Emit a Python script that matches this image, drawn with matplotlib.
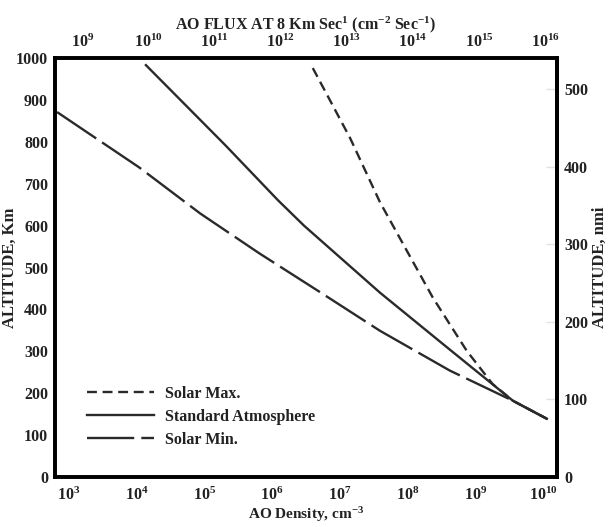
import matplotlib
matplotlib.use("Agg")
import matplotlib.pyplot as plt
import numpy as np

# Data (log10 of AO density, altitude km)
solar_max_logn = [6.60, 7.15, 7.59, 8.00, 8.37, 8.87, 9.25, 9.55, 10.05]
solar_max_alt = [976, 809, 656, 536, 428, 301, 222, 182, 139]
std_logn = [4.14, 5.31, 6.09, 6.47, 7.59, 8.62, 9.55, 10.05]
std_alt = [983, 792, 660, 600, 440, 304, 182, 139]
solar_min_logn = [2.83, 4.04, 4.94, 5.81, 6.68, 7.59, 8.62, 9.55, 10.05]
solar_min_alt = [871, 739, 629, 534, 444, 349, 254, 182, 139]

bottom_exps = [3, 4, 5, 6, 7, 8, 9, 10]
top_exps = [9, 10, 11, 12, 13, 14, 15, 16]
km_ticks = [0, 100, 200, 300, 400, 500, 600, 700, 800, 900, 1000]
nmi_ticks = [0, 100, 200, 300, 400, 500]
labels = ["Solar Max.", "Standard Atmosphere", "Solar Min."]

plt.rcParams['font.family'] = ['Liberation Serif', 'DejaVu Serif']
plt.rcParams['font.weight'] = 'bold'
plt.rcParams['axes.labelweight'] = 'bold'
plt.rcParams['mathtext.fontset'] = 'custom'
plt.rcParams['mathtext.rm'] = 'Liberation Serif:bold'
plt.rcParams['mathtext.it'] = 'Liberation Serif:bold'
plt.rcParams['mathtext.bf'] = 'Liberation Serif:bold'

tc = '#222222'
fig = plt.figure(figsize=(6.10, 5.27), dpi=100)
ax = fig.add_axes([55/610, 50/527, (557-55)/610, (477-58)/527])

lw = 1.7
lc = '#2a2a2a'
ax.plot(10**np.array(solar_max_logn), solar_max_alt, color=lc, lw=lw,
        dashes=(4.2, 2.4), label=labels[0])
ax.plot(10**np.array(std_logn), std_alt, color=lc, lw=lw, label=labels[1])
ax.plot(10**np.array(solar_min_logn), solar_min_alt, color=lc, lw=lw,
        dashes=(20, 3.0), label=labels[2])

ax.set_xscale('log')
ax.set_xlim(10**2.80, 10**10.20)
ax.set_ylim(0, 1000)
ax.set_xticks([10.0**e for e in bottom_exps])
ax.set_xticklabels([r'$\mathregular{10^{%d}}$' % e for e in bottom_exps])
ax.xaxis.set_minor_locator(matplotlib.ticker.NullLocator())
ax.set_yticks(km_ticks)
ax.set_yticklabels([str(v) for v in km_ticks])
ax.tick_params(axis='both', length=0, labelsize=11.5, colors=tc)
ax.tick_params(axis='y', pad=5)
ax.tick_params(axis='x', pad=7)
for s in ax.spines.values():
    s.set_linewidth(2.6)
    s.set_color('black')

ax.set_xlabel(r'AO Density, cm$^{-3}$', fontsize=11, color=tc)
ax.xaxis.set_label_coords(0.5, -0.066)
ax.set_ylabel('ALTITUDE, Km', fontsize=12, color=tc)
ax.yaxis.set_label_coords(-0.074, 0.5)

# top axis
axt = ax.twiny()
axt.set_xscale('log')
axt.set_xlim(10**8.59, 10**16.18)
axt.set_xticks([10.0**e for e in top_exps])
axt.set_xticklabels([r'$\mathregular{10^{%d}}$' % e for e in top_exps])
axt.xaxis.set_minor_locator(matplotlib.ticker.NullLocator())
axt.tick_params(axis='x', length=0, labelsize=11.5, colors=tc, pad=5)
axt.set_xlabel(r'AO FLUX AT 8 Km Sec$^{1}$ (cm$^{-2}$ Sec$^{-1}$)', fontsize=11.5,
               color=tc, labelpad=3)
for s in axt.spines.values():
    s.set_linewidth(2.6)

# right axis in nautical miles
axr = ax.secondary_yaxis('right', functions=(lambda k: k / 1.852, lambda n: n * 1.852))
axr.set_yticks(nmi_ticks)
axr.set_yticklabels([str(v) for v in nmi_ticks])
axr.tick_params(axis='y', direction='in', length=8, width=1, color='#e2e2e2',
                labelsize=11.5, colors=tc, pad=5)
axr.tick_params(axis='y', color='#e2e2e2')
axr.spines['right'].set_linewidth(2.6)
axr.set_ylabel('ALTITUDE, nmi', fontsize=12, color=tc, labelpad=3)

leg = ax.legend(loc='lower left', bbox_to_anchor=(0.035, 0.035), frameon=False,
                prop={'size': 11.5, 'weight': 'bold'}, handlelength=4.2,
                handletextpad=0.7, labelspacing=0.45, labelcolor=tc)

fig.savefig('out.png', dpi=100)
